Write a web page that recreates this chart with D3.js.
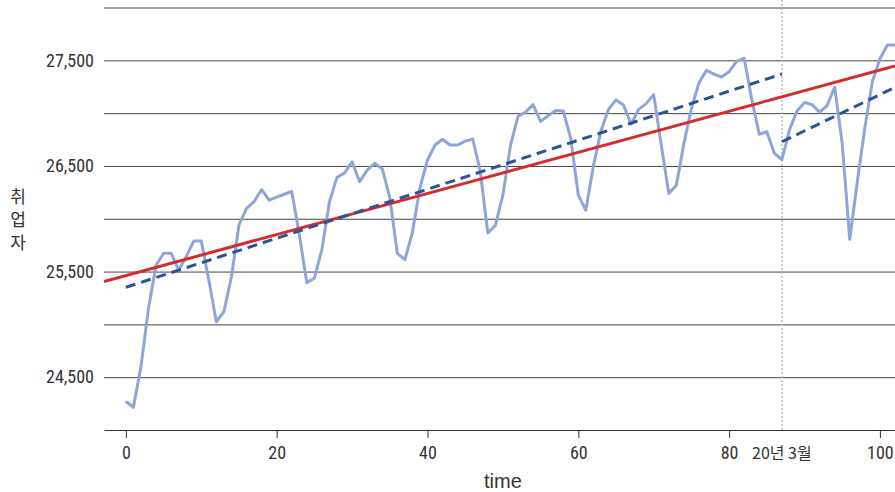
<!DOCTYPE html>
<html>
<head>
<meta charset="utf-8">
<script src="https://cdn.jsdelivr.net/npm/d3@7"></script>
<style>
  body { margin: 0; background: #fff; }
  .tick text { font-family: "Liberation Sans Narrow", "Roboto Condensed", "Arial Narrow", sans-serif; fill: #333; }
</style>
</head>
<body>
<div class="chart"></div>
<script>
// monthly employed persons (thousands), t = 0 .. 102
const employed = [
  24270, 24215, 24600, 25150, 25560, 25673, 25673, 25515, 25641, 25789,
  25789, 25420, 25025, 25120, 25451, 25941, 26099, 26161, 26275, 26177,
  26205, 26232, 26258, 25850, 25395, 25436, 25710, 26160, 26392, 26433,
  26540, 26351, 26460, 26525, 26472, 26200, 25673, 25612, 25870, 26295,
  26556, 26698, 26752, 26698, 26698, 26735, 26755, 26450, 25866, 25936,
  26225, 26690, 26970, 27010, 27080, 26922, 26975, 27025, 27020, 26760,
  26225, 26080, 26500, 26830, 27035, 27125, 27077, 26895, 27036, 27090,
  27175, 26700, 26238, 26316, 26710, 27045, 27288, 27405, 27370, 27342,
  27392, 27490, 27520, 27130, 26800, 26824, 26620, 26560, 26840, 27020,
  27100, 27080, 27010, 27072, 27247, 26714, 25805, 26350, 26860, 27300,
  27515, 27645, 27645
];

// trend lines: [time, value] end points
const trendAll = [[-2.9, 25405], [102, 27446]];
const trendBefore = [[0, 25351], [87, 27370]];
const trendAfter = [[87, 26729], [102, 27244]];

// axis ticks
const xTicks = [0, 20, 40, 60, 80, 100];
const yGrid = [24500, 25000, 25500, 26000, 26500, 27000, 27500, 28000];
const yLabels = [24500, 25500, 26500, 27500];
const breakTime = 87;
const breakLabel = "20년 3월";

const width = 895, height = 492;
const mLeft = 104, mRight = 895, mTop = 7.5, mBottom = 430;

const svg = d3.select('.chart')
              .append('svg')
              .attr('width', width)
              .attr('height', height);

const x = d3.scaleLinear().domain([-2.9, 102]).range([mLeft, mRight]);
const y = d3.scaleLinear().domain([24000, 28000]).range([mBottom, mTop]);

svg.append("clipPath")
   .attr("id", "plot")
   .append("rect")
   .attr("x", mLeft).attr("y", 0)
   .attr("width", mRight - mLeft).attr("height", mBottom);

// grid lines + y labels
const yAxis = svg.append("g")
  .attr("transform", `translate(${mLeft},0)`)
  .call(d3.axisLeft(y)
          .tickValues(yGrid)
          .tickSize(-(mRight - mLeft))
          .tickPadding(10)
          .tickFormat(d => yLabels.includes(d) ? d3.format(",")(d) : ""));
yAxis.select(".domain").remove();
yAxis.selectAll(".tick line").attr("stroke", "#444").attr("stroke-width", 1);
yAxis.selectAll(".tick text").style("font-size", "18px");

// x axis
const xAxis = svg.append("g")
  .attr("transform", `translate(0,${mBottom})`)
  .call(d3.axisBottom(x)
          .tickValues(xTicks)
          .tickSize(8)
          .tickSizeOuter(0)
          .tickPadding(8));
xAxis.select(".domain").attr("stroke", "#333");
xAxis.selectAll(".tick line").attr("stroke", "#333");
xAxis.selectAll(".tick text").style("font-size", "18px");

// break marker
svg.append("line")
   .attr("x1", x(breakTime)).attr("x2", x(breakTime))
   .attr("y1", 0).attr("y2", mBottom)
   .attr("stroke", "#bbb")
   .attr("stroke-width", 1.5)
   .attr("stroke-dasharray", "2,2");
svg.append("text")
   .attr("x", x(breakTime))
   .attr("y", mBottom + 29)
   .attr("text-anchor", "middle")
   .style("font-family", '"Liberation Sans Narrow", "Noto Sans CJK KR", sans-serif')
   .style("font-size", "16px")
   .attr("fill", "#333")
   .text(breakLabel);

const plot = svg.append("g").attr("clip-path", "url(#plot)");

const line = d3.line()
  .x((d, i) => x(i))
  .y(d => y(d));
const seg = d3.line()
  .x(d => x(d[0]))
  .y(d => y(d[1]));

plot.append("path")
    .datum(employed)
    .attr("d", line)
    .attr("fill", "none")
    .attr("stroke", "#8fa5d8")
    .attr("stroke-width", 3)
    .attr("stroke-linejoin", "round");

plot.append("path")
    .datum(trendAll)
    .attr("d", seg)
    .attr("stroke", "#d62b2b")
    .attr("stroke-width", 3);

[trendBefore, trendAfter].forEach(function(t) {
  plot.append("path")
      .datum(t)
      .attr("d", seg)
      .attr("stroke", "#2a5594")
      .attr("stroke-width", 3)
      .attr("stroke-dasharray", "10,6");
});

// axis titles
svg.append("text")
   .attr("x", x(50))
   .attr("y", 488)
   .attr("text-anchor", "middle")
   .style("font-family", '"Liberation Sans Narrow", sans-serif')
   .style("font-size", "20px")
   .attr("fill", "#333")
   .text("time");

svg.append("text")
   .attr("x", 18)
   .attr("y", 203)
   .attr("text-anchor", "middle")
   .style("font-family", '"Noto Sans CJK KR", sans-serif')
   .style("font-size", "17px")
   .attr("fill", "#333")
   .selectAll("tspan")
   .data(["취", "업", "자"])
   .enter()
   .append("tspan")
   .attr("x", 18)
   .attr("dy", (d, i) => i === 0 ? 0 : 23)
   .text(d => d);
</script>
</body>
</html>
